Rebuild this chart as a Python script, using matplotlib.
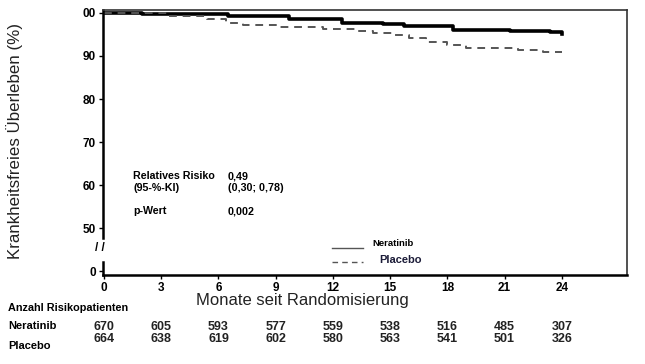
import matplotlib
matplotlib.use("Agg")
import matplotlib.pyplot as plt
from matplotlib.lines import Line2D

plt.rcParams['font.family'] = ['Liberation Sans', 'DejaVu Sans']

# Kaplan-Meier curves (months, % disease-free)
nera_months = [0, 2.0, 6.5, 9.7, 12.5, 14.6, 15.7, 18.3, 21.3, 23.4, 24]
nera_surv = [100, 99.7, 99.3, 98.5, 97.7, 97.4, 96.9, 96.1, 95.8, 95.5, 95.1]
plac_months = [0, 3.3, 5.4, 6.4, 7.3, 9.1, 11.5, 13.3, 14.1, 15.2, 16.0,
               16.9, 18.0, 19.0, 21.7, 23.0, 24]
plac_surv = [100, 99.3, 98.7, 97.7, 97.2, 96.8, 96.2, 95.8, 95.4, 94.9, 94.1,
             93.3, 92.6, 91.8, 91.4, 91.0, 90.9]

# risk table
risk_months = [0, 3, 6, 9, 12, 15, 18, 21, 24]
nera_risk = [670, 605, 593, 577, 559, 538, 516, 485, 307]
plac_risk = [664, 638, 619, 602, 580, 563, 541, 501, 326]

# y ticks; the 0 is drawn at 40 on the broken axis
ytick_pos = [40, 50, 60, 70, 80, 90, 100]
ytick_labels = ['0', '50', '60', '70', '80', '90', '00']

W, H = 645, 364
fig = plt.figure(figsize=(6.45, 3.64), dpi=100)
ax = fig.add_axes([102.7 / W, 1 - 275 / H, (626.7 - 102.7) / W, (275 - 9.5) / H])
ax.set_xlim(-0.07, 27.4)
ax.set_ylim(39.1, 100.8)

ax.plot(nera_months, nera_surv, drawstyle='steps-post', color='black', lw=2.6)
ax.plot(plac_months, plac_surv, drawstyle='steps-post', color='#555555', lw=1.4,
        dashes=(4, 3))

# frame
for s in ['top', 'right']:
    ax.spines[s].set_linewidth(1.2)
    ax.spines[s].set_color('#333333')
ax.spines['bottom'].set_linewidth(1.8)
ax.spines['left'].set_visible(False)

# broken left axis
tr = ax.get_yaxis_transform()
ax.plot([0, 0], [100.8, 47.6], transform=tr, color='black', lw=1.8, clip_on=False)
ax.plot([0, 0], [42.2, 39.1], transform=tr, color='black', lw=1.8, clip_on=False)
fig.text(100 / W, 1 - 248 / H, '/ /', fontsize=8.5, fontweight='bold',
         ha='center', va='center')

ax.set_yticks(ytick_pos)
ax.set_yticklabels(ytick_labels, fontsize=8.5, fontweight='bold')
ax.set_xticks(risk_months)
ax.set_xticklabels([str(m) for m in risk_months], fontsize=8.5, fontweight='bold')
ax.tick_params(axis='both', length=3, width=1, pad=2)

fig.text(15 / W, 1 - 141 / H, 'Krankheitsfreies Überleben (%)', rotation=90,
         fontsize=12.2, ha='center', va='center', color='#222222')
fig.text(302 / W, 1 - 300 / H, 'Monate seit Randomisierung', fontsize=12,
         ha='center', va='center', color='#222222')

# statistics box
stats = [('Relatives Risiko', '0,49', 176), ('(95-%-KI)', '(0,30; 0,78)', 188),
         ('p-Wert', '0,002', 211)]
for lab, val, yp in stats:
    fig.text(133 / W, 1 - yp / H, lab, fontsize=7.7, fontweight='bold', va='center')
    fig.text(228 / W, 1 - yp / H, val, fontsize=7.7, fontweight='bold', va='center')

# legend
fig.add_artist(Line2D([332 / W, 363 / W], [1 - 248 / H, 1 - 248 / H],
                      color='#555555', lw=1.0))
fig.add_artist(Line2D([332 / W, 363 / W], [1 - 262 / H, 1 - 262 / H],
                      color='#555555', lw=1.0, dashes=(4, 3)))
fig.text(372 / W, 1 - 244 / H, 'Neratinib', fontsize=6.8, fontweight='bold', va='center')
fig.text(379 / W, 1 - 260 / H, 'Placebo', fontsize=8, fontweight='bold', va='center',
         color='#1c1c38')

# risk table
fig.text(8 / W, 1 - 308 / H, 'Anzahl Risikopatienten', fontsize=7.8, fontweight='bold',
         va='center')
fig.text(8 / W, 1 - 326 / H, 'Neratinib', fontsize=8, fontweight='bold', va='center')
fig.text(8 / W, 1 - 346 / H, 'Placebo', fontsize=8, fontweight='bold', va='center')
for m, n, p in zip(risk_months, nera_risk, plac_risk):
    x_fig = fig.transFigure.inverted().transform(ax.transData.transform((m, 50)))[0]
    fig.text(x_fig, 1 - 327 / H, str(n), fontsize=9, fontweight='bold',
             ha='center', va='center', color='#222222')
    fig.text(x_fig, 1 - 339 / H, str(p), fontsize=9, fontweight='bold',
             ha='center', va='center', color='#222222')

fig.savefig('out.png', dpi=100)
